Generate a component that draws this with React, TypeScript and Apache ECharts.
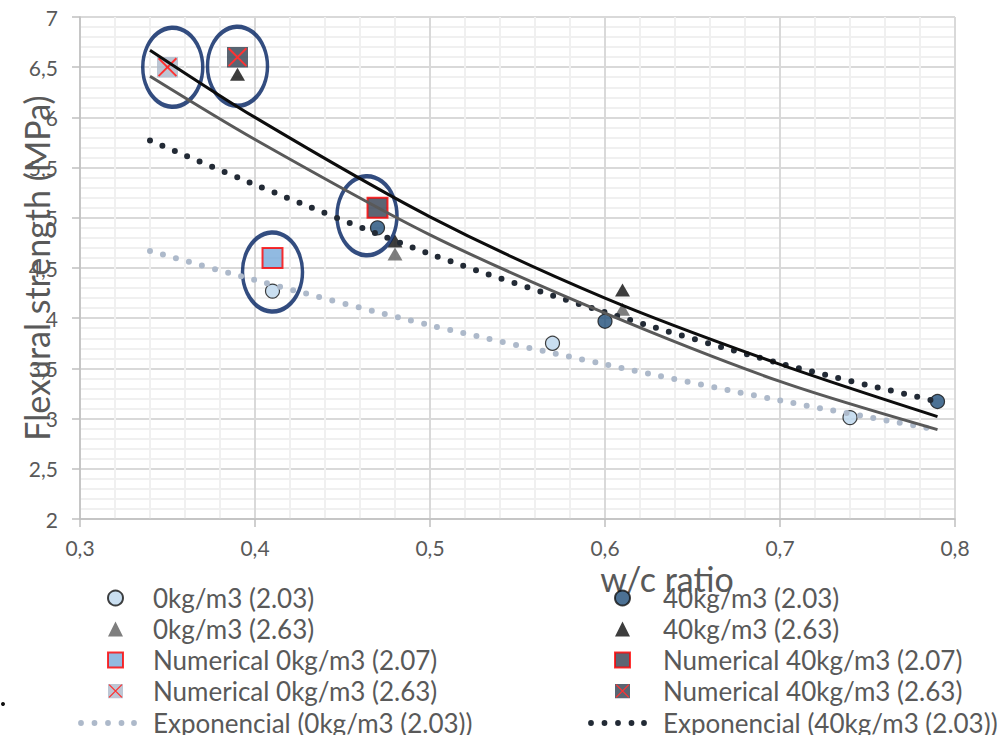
import { useEffect, useRef } from "react";
import * as echarts from "echarts";

// Measured specimens: w/c ratio (x) and flexural strength in MPa (y)
const exp0_203X = [0.41, 0.57, 0.74];
const exp0_203Y = [4.27, 3.75, 3.01];
const exp40_203X = [0.47, 0.6, 0.79];
const exp40_203Y = [4.9, 3.97, 3.17];
const exp0_263X = [0.48, 0.61];
const exp0_263Y = [4.64, 4.09];
const exp40_263X = [0.39, 0.48, 0.61];
const exp40_263Y = [6.43, 4.77, 4.28];

// Numerical model results
const num0_207 = [[0.41, 4.6]];
const num40_207 = [[0.47, 5.1]];
const num0_263 = [[0.35, 6.5]];
const num40_263 = [[0.39, 6.6]];

// Exponential trend curves, read at these w/c ratios
const trendX = [0.34, 0.4, 0.5, 0.6, 0.7, 0.79];
const trend0_203 = [4.67, 4.38, 3.93, 3.54, 3.18, 2.89];
const trend40_203 = [5.77, 5.33, 4.64, 4.06, 3.55, 3.17];
const trend0_263 = [6.41, 5.78, 4.83, 4.05, 3.37, 2.89];
const trend40_263 = [6.67, 6.0, 5.01, 4.2, 3.54, 3.02];

// Highlighted groups (ellipse centres)
const highlightX = [0.353, 0.39, 0.464, 0.41];
const highlightY = [6.5, 6.51, 5.02, 4.46];

const NAMES = {
  c0: "0kg/m3 (2.03)",
  c40: "40kg/m3 (2.03)",
  t0: "0kg/m3 (2.63)",
  t40: "40kg/m3 (2.63)",
  n0a: "Numerical 0kg/m3 (2.07)",
  n40a: "Numerical 40kg/m3 (2.07)",
  n0b: "Numerical 0kg/m3 (2.63)",
  n40b: "Numerical 40kg/m3 (2.63)",
  e0: "Exponencial (0kg/m3 (2.03))",
  e40: "Exponencial (40kg/m3 (2.03))",
};

const zip = (xs: number[], ys: number[]) => xs.map((x, i) => [x, ys[i]]);

const svgIcon = (svg: string) =>
  "image://data:image/svg+xml;charset=utf-8," + encodeURIComponent(svg);

// Filled square crossed by a red X
function crossSquare(fill: string): string {
  return svgIcon(
    `<svg xmlns="http://www.w3.org/2000/svg" width="40" height="40" viewBox="0 0 40 40">` +
      `<rect x="0" y="0" width="40" height="40" fill="${fill}"/>` +
      `<path d="M3 3L37 37M37 3L3 37" stroke="#ff0000" stroke-width="3.6" fill="none"/></svg>`
  );
}

// Row of round dots used as the legend key of a dotted trend line
function dotRow(color: string): string {
  const xs = [3, 16.5, 30, 43.5, 56];
  const dots = xs.map((x) => `<circle cx="${x}" cy="7.5" r="2.9" fill="${color}"/>`).join("");
  return svgIcon(
    `<svg xmlns="http://www.w3.org/2000/svg" width="59" height="15" viewBox="0 0 59 15">${dots}</svg>`
  );
}

const TEXT = "#595959";
const FONT = "Lato";
const LIGHT_TREND = "#adb9ca";
const DARK_TREND = "#222a35";
const CROSS_LIGHT = "#adb9ca";
const CROSS_DARK = "#323f4f";

export default function App() {
  const ref = useRef<HTMLDivElement>(null);

  useEffect(() => {
    if (!ref.current) return;
    const chart = echarts.init(ref.current, undefined, { renderer: "svg" });

    const dotted = (color: string) => ({
      color,
      width: 6,
      type: [0, 13.5] as number[],
      cap: "round" as const,
    });

    const legendText = (padLeft: number, lineHeight: number) => ({
      color: TEXT,
      fontFamily: FONT,
      fontSize: 26,
      lineHeight,
      padding: [0, 0, 0, padLeft],
    });

    const markerLegend = (left: number, padLeft: number, data: any[]) => ({
      orient: "vertical" as const,
      left,
      top: 585,
      padding: 0,
      itemWidth: 15,
      itemHeight: 15,
      itemGap: 5,
      selectedMode: false,
      textStyle: legendText(padLeft, 26),
      data,
    });

    const trendLegend = (left: number, padLeft: number, data: any[]) => ({
      orient: "vertical" as const,
      left,
      top: 710,
      padding: 0,
      itemWidth: 59,
      itemHeight: 15,
      itemGap: 5,
      selectedMode: false,
      textStyle: legendText(padLeft, 22),
      data,
    });

    chart.setOption({
      animation: false,
      textStyle: { fontFamily: FONT },
      grid: { left: 80, top: 17, right: 48, bottom: 216, containLabel: false },
      xAxis: {
        type: "value",
        min: 0.3,
        max: 0.8,
        interval: 0.1,
        axisLine: { show: true, lineStyle: { color: "#bfbfbf", width: 1.5 } },
        axisTick: { show: true, length: 8, lineStyle: { color: "#bfbfbf", width: 1.5 } },
        axisLabel: {
          color: TEXT,
          fontSize: 21,
          fontFamily: FONT,
          margin: 18,
          formatter: (v: number) => v.toFixed(1).replace(".", ","),
        },
        splitLine: { show: true, lineStyle: { color: "#d9d9d9", width: 2 } },
        minorTick: { show: false, splitNumber: 5 },
        minorSplitLine: { show: true, lineStyle: { color: "#f0f0f0", width: 2 } },
      },
      yAxis: {
        type: "value",
        min: 2,
        max: 7,
        interval: 0.5,
        axisLine: { show: true, lineStyle: { color: "#bfbfbf", width: 1.5 } },
        axisTick: { show: true, length: 8, lineStyle: { color: "#bfbfbf", width: 1.5 } },
        axisLabel: {
          color: TEXT,
          fontSize: 21,
          fontFamily: FONT,
          margin: 22,
          formatter: (v: number) =>
            Number.isInteger(v) ? String(v) : v.toFixed(1).replace(".", ","),
        },
        splitLine: { show: true, lineStyle: { color: "#d9d9d9", width: 2 } },
        minorTick: { show: false, splitNumber: 5 },
        minorSplitLine: { show: true, lineStyle: { color: "#f0f0f0", width: 2 } },
      },
      legend: [
        markerLegend(107, 25, [
          { name: NAMES.c0, icon: "circle" },
          { name: NAMES.t0, icon: "triangle" },
          { name: NAMES.n0a, icon: "rect" },
          { name: NAMES.n0b, icon: crossSquare(CROSS_LIGHT) },
        ]),
        trendLegend(78, 11, [{ name: NAMES.e0, icon: dotRow(LIGHT_TREND) }]),
        markerLegend(614, 28, [
          { name: NAMES.c40, icon: "circle" },
          { name: NAMES.t40, icon: "triangle" },
          { name: NAMES.n40a, icon: "rect" },
          { name: NAMES.n40b, icon: crossSquare(CROSS_DARK) },
        ]),
        trendLegend(588, 11, [{ name: NAMES.e40, icon: dotRow(DARK_TREND) }]),
      ],
      series: [
        {
          name: NAMES.c0,
          type: "scatter",
          symbol: "circle",
          symbolSize: 14,
          itemStyle: { color: "#bdd7ee", borderColor: "#111111", borderWidth: 1.2 },
          data: zip(exp0_203X, exp0_203Y),
        },
        {
          name: NAMES.c40,
          type: "scatter",
          symbol: "circle",
          symbolSize: 14,
          itemStyle: { color: "#1f4e79", borderColor: "#111111", borderWidth: 1.2 },
          data: zip(exp40_203X, exp40_203Y),
        },
        {
          name: NAMES.t0,
          type: "scatter",
          symbol: "triangle",
          symbolSize: [15, 13],
          itemStyle: { color: "#5e5e5e" },
          data: zip(exp0_263X, exp0_263Y),
        },
        {
          name: NAMES.t40,
          type: "scatter",
          symbol: "triangle",
          symbolSize: [15, 13],
          itemStyle: { color: "#0d0d0d" },
          data: zip(exp40_263X, exp40_263Y),
        },
        {
          name: NAMES.n0a,
          type: "scatter",
          symbol: "rect",
          symbolSize: 20,
          itemStyle: { color: "#76a9da", borderColor: "#ff0000", borderWidth: 2 },
          data: num0_207,
        },
        {
          name: NAMES.n40a,
          type: "scatter",
          symbol: "rect",
          symbolSize: 20,
          itemStyle: { color: "#333f50", borderColor: "#ff0000", borderWidth: 2 },
          data: num40_207,
        },
        {
          name: NAMES.n0b,
          type: "scatter",
          symbol: crossSquare(CROSS_LIGHT),
          symbolSize: 21,
          itemStyle: { color: CROSS_LIGHT },
          data: num0_263,
        },
        {
          name: NAMES.n40b,
          type: "scatter",
          symbol: crossSquare(CROSS_DARK),
          symbolSize: 21,
          itemStyle: { color: CROSS_DARK },
          data: num40_263,
        },
        {
          name: NAMES.e0,
          type: "line",
          smooth: 0.3,
          showSymbol: false,
          symbol: "none",
          lineStyle: dotted(LIGHT_TREND),
          itemStyle: { color: LIGHT_TREND },
          data: zip(trendX, trend0_203),
        },
        {
          name: NAMES.e40,
          type: "line",
          smooth: 0.3,
          showSymbol: false,
          symbol: "none",
          lineStyle: dotted(DARK_TREND),
          itemStyle: { color: DARK_TREND },
          data: zip(trendX, trend40_203),
        },
        {
          name: "Exponencial (0kg/m3 (2.63))",
          type: "line",
          smooth: 0.3,
          showSymbol: false,
          symbol: "none",
          lineStyle: { color: "#595959", width: 3 },
          data: zip(trendX, trend0_263),
        },
        {
          name: "Exponencial (40kg/m3 (2.63))",
          type: "line",
          smooth: 0.3,
          showSymbol: false,
          symbol: "none",
          lineStyle: { color: "#0d0d0d", width: 3 },
          data: zip(trendX, trend40_263),
        },
        {
          name: "highlight",
          type: "scatter",
          symbol: "circle",
          symbolSize: [60, 79],
          silent: true,
          itemStyle: { color: "rgba(0,0,0,0)", borderColor: "#002060", borderWidth: 4 },
          data: zip(highlightX, highlightY),
        },
      ],
      graphic: [
        {
          type: "text",
          x: 667,
          y: 578,
          style: {
            text: "w/c ratio",
            fill: TEXT,
            font: `34px ${FONT}`,
            align: "center",
            verticalAlign: "middle",
          },
        },
        {
          type: "text",
          x: 36,
          y: 268,
          rotation: Math.PI / 2,
          style: {
            text: "Flexural strength (MPa)",
            fill: TEXT,
            font: `34px ${FONT}`,
            align: "center",
            verticalAlign: "middle",
          },
        },
        {
          type: "circle",
          shape: { cx: 3, cy: 704, r: 2 },
          style: { fill: "#111111" },
        },
      ],
    });

    return () => chart.dispose();
  }, []);

  return (
    <div
      ref={ref}
      style={{ position: "absolute", left: 0, top: 0, width: 1003, height: 735, background: "#ffffff" }}
    />
  );
}
